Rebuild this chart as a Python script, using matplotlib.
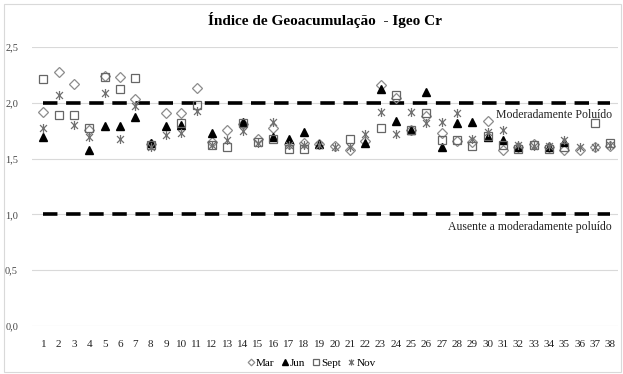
import numpy as np
from matplotlib import pyplot as plt
from matplotlib.path import Path
from matplotlib.patches import Rectangle

nan = np.nan
categories = list(range(1, 39))

mar = [1.92, 2.28, 2.17, 1.76, 2.24, 2.23, 2.03, 1.63, 1.91, 1.91,
       2.13, 1.65, 1.76, 1.81, 1.68, 1.77, 1.63, 1.64, 1.63, 1.61,
       1.58, 1.66, 2.16, 2.04, 1.76, 1.88, 1.73, 1.66, 1.65, 1.84,
       1.58, 1.60, 1.63, 1.60, 1.58, 1.58, 1.60, 1.61]
jun = [1.69, nan, nan, 1.58, 1.79, 1.79, 1.87, 1.64, 1.79, 1.80,
       nan, 1.73, nan, 1.83, nan, 1.69, 1.68, 1.74, 1.63, nan,
       nan, 1.64, 2.12, 1.84, 1.76, 2.10, 1.60, 1.82, 1.83, 1.69,
       1.67, 1.60, nan, 1.60, 1.65, nan, nan, nan]
sept = [2.21, 1.89, 1.89, 1.77, 2.23, 2.12, 2.22, 1.62, nan, 1.82,
        1.98, 1.62, 1.60, 1.82, 1.65, 1.68, 1.59, 1.59, nan, nan,
        1.68, nan, 1.77, 2.07, 1.76, 1.91, 1.67, 1.67, 1.61, 1.70,
        1.62, 1.59, 1.62, 1.59, 1.60, nan, 1.82, 1.64]
nov = [1.77, 2.07, 1.80, 1.69, 2.09, 1.68, 1.97, 1.60, 1.71, 1.73,
       1.93, 1.62, 1.67, 1.75, 1.64, 1.83, 1.62, 1.62, 1.62, 1.60,
       1.60, 1.72, 1.92, 1.72, 1.92, 1.82, 1.83, 1.91, 1.68, 1.74,
       1.76, 1.62, 1.61, 1.61, 1.67, 1.60, 1.60, 1.62]

limits = {'Moderadamente Poluído': 2.0, 'Ausente a moderadamente poluído': 1.0}
y_ticks = [0.0, 0.5, 1.0, 1.5, 2.0, 2.5]

plt.rcParams['font.family'] = ['Liberation Serif', 'DejaVu Serif']

# excel-like asterisk: X with a vertical bar
star = Path([(-1, -1), (1, 1), (-1, 1), (1, -1), (0, -1.3), (0, 1.3)],
            [Path.MOVETO, Path.LINETO, Path.MOVETO, Path.LINETO, Path.MOVETO, Path.LINETO])

fig = plt.figure(figsize=(6.23, 3.74), dpi=100)
fig.patches.append(Rectangle((0.006, 0.005), 0.99, 0.985, transform=fig.transFigure,
                             fill=False, edgecolor='#d9d9d9', linewidth=0.8))
ax = fig.add_axes([32 / 623, 48 / 374, 586 / 623, 279 / 374])

for name, val in limits.items():
    ax.plot([categories[0], categories[-1]], [val, val], color='black', linewidth=2.6,
            dashes=(4, 2.4), zorder=2)
    ax.text(categories[-1] + 0.1, val - 0.06, name, ha='right', va='top', fontsize=8.5,
            color='#222222')

ax.plot(categories, mar, linestyle='none', marker='D', markersize=4.8, markerfacecolor='none',
        markeredgecolor='#8c8c8c', markeredgewidth=0.9, label='Mar', zorder=3)
ax.plot(categories, jun, linestyle='none', marker='^', markersize=5.5, color='black',
        label='Jun', zorder=3)
ax.plot(categories, sept, linestyle='none', marker='s', markersize=6, markerfacecolor='none',
        markeredgecolor='#666666', markeredgewidth=0.9, label='Sept', zorder=3)
ax.plot(categories, nov, linestyle='none', marker=star, markersize=6.5, markerfacecolor='none',
        markeredgecolor='#707070', markeredgewidth=0.9, label='Nov', zorder=3)

ax.set_xlim(0.25, 38.5)
ax.set_ylim(0, 2.5)
ax.set_yticks(y_ticks)
ax.set_yticklabels([f'{t:.1f}'.replace('.', ',') for t in y_ticks], fontsize=7.5, color='#444444')
ax.set_xticks(categories)
ax.set_xticklabels([str(c) for c in categories], fontsize=8, color='#222222')
ax.tick_params(length=0, pad=10)
ax.tick_params(axis='y', pad=10)
ax.grid(axis='y', color='#d9d9d9', linewidth=0.8)
ax.set_axisbelow(True)
for s in ax.spines.values():
    s.set_visible(False)

ax.set_title('Índice de Geoacumulação  - Igeo Cr', fontsize=11, fontweight='bold', pad=16)

fig.legend(loc='lower center', bbox_to_anchor=(0.5, -0.01), ncol=4, frameon=False, fontsize=8,
           handlelength=0.6, handletextpad=0.2, columnspacing=0.6, markerscale=0.7)

plt.savefig('out.png', dpi=100)
